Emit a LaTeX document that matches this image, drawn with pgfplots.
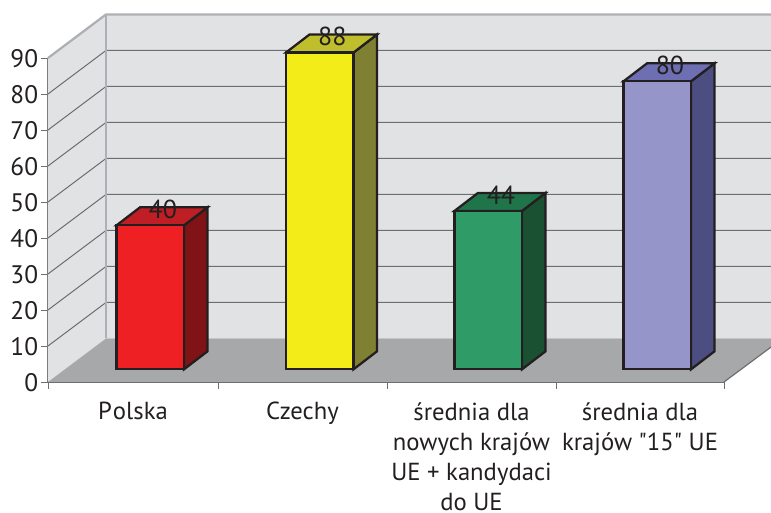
\documentclass[border=0pt]{standalone}
\usepackage{pgfplots}
\pgfplotsset{compat=1.18}
\usepackage{fontspec}
\setmainfont{PT Sans}
\newfontfamily\plainq{PT Sans}
\definecolor{wall}{HTML}{E1E2E4}
\definecolor{floorc}{HTML}{A7A8AA}
\definecolor{frame}{HTML}{AFB0B3}
\definecolor{gridc}{HTML}{6D6E70}
\definecolor{ink}{HTML}{231F20}
\definecolor{rF}{HTML}{EF2024}\definecolor{rS}{HTML}{7F1315}\definecolor{rT}{HTML}{BE1E24}
\definecolor{yF}{HTML}{F3EC18}\definecolor{yS}{HTML}{7F8032}\definecolor{yT}{HTML}{BFBF2E}
\definecolor{gF}{HTML}{2F9C67}\definecolor{gS}{HTML}{1A5133}\definecolor{gT}{HTML}{1F7549}
\definecolor{pF}{HTML}{9695C9}\definecolor{pS}{HTML}{4C4D80}\definecolor{pT}{HTML}{6E6EB2}
\begin{document}
\begin{tikzpicture}
\begin{axis}[
  name=a, scale only axis, width=507pt, height=243pt,
  xmin=48, xmax=724, ymin=0, ymax=90, clip=false,
  axis x line=bottom, axis y line=left,
  axis line style={-, draw=gridc, line width=0.9pt},
  ytick={0,10,...,90},
  xtick={133,302.5,471.5,640},
  minor xtick={48,218,387,556,724},
  xticklabels={{P\kern0.8pt olska},{Czechy},{średnia dla\\nowych krajów\\UE + kandydaci\\do UE},{średnia dla\\krajów {\plainq "}15{\plainq "} UE}},
  tick align=outside,
  major tick length=5.25pt, minor tick length=5.25pt,
  major x tick style={draw=none},
  minor x tick style={draw=gridc, line width=0.7pt},
  y tick style={draw=gridc, line width=0.7pt},
  /pgf/number format/assume math mode=true,
  yticklabel style={font=\fontsize{19}{22}\selectfont, text=ink, inner sep=0pt, xshift=-2pt, yshift=-0.5pt},
  xticklabel style={font=\fontsize{18.5}{22.5}\selectfont, text=ink, align=center, anchor=north, yshift=-9.75pt, inner sep=0pt},
  every node near coord/.append style={font=\fontsize{19.5}{22}\selectfont, text=ink, anchor=center, inner sep=0pt, xshift=9.5pt, yshift=11.75pt},
]
% walls and floor
\addplot[fill=wall, draw=none] coordinates {(48,0)(106,12.1)(106,102.1)(48,90)} -- cycle;
\addplot[fill=wall, draw=none] coordinates {(106,12.1)(771,12.1)(771,102.1)(106,102.1)} -- cycle;
\addplot[fill=floorc, draw=none] coordinates {(48,0)(106,12.1)(771,12.1)(771,9.7)(724,0)} -- cycle;
% grid lines
\addplot[gridc, line width=0.75pt] coordinates {(48,10)(106,22.1)(771,22.1)};
\addplot[gridc, line width=0.75pt] coordinates {(48,20)(106,32.1)(771,32.1)};
\addplot[gridc, line width=0.75pt] coordinates {(48,30)(106,42.1)(771,42.1)};
\addplot[gridc, line width=0.75pt] coordinates {(48,40)(106,52.1)(771,52.1)};
\addplot[gridc, line width=0.75pt] coordinates {(48,50)(106,62.1)(771,62.1)};
\addplot[gridc, line width=0.75pt] coordinates {(48,60)(106,72.1)(771,72.1)};
\addplot[gridc, line width=0.75pt] coordinates {(48,70)(106,82.1)(771,82.1)};
\addplot[gridc, line width=0.75pt] coordinates {(48,80)(106,92.1)(771,92.1)};
\addplot[frame, line width=1.7pt] coordinates {(48,90)(106,102.1)(771,102.1)};
\addplot[frame, line width=1.7pt] coordinates {(106,12.1)(106,102.1)};
\addplot[gridc, line width=0.9pt] coordinates {(724,0)(771,9.7)};
% bars: side, top, front
\addplot[fill=rS, draw=ink, line width=1.7pt, yshift=9.5pt] coordinates {(184,0)(207.5,5)(207.5,45)(184,40)} -- cycle;
\addplot[fill=rT, draw=ink, line width=1.7pt, yshift=9.5pt] coordinates {(116.5,40)(140,45)(207.5,45)(184,40)} -- cycle;
\addplot[ybar, bar width=50.6pt, bar shift=0pt, fill=rF, draw=ink, line width=1.7pt, yshift=9.5pt, nodes near coords] coordinates {(150.25,40)};
\addplot[fill=yS, draw=ink, line width=1.7pt, yshift=9.5pt] coordinates {(353.5,0)(377,5)(377,93)(353.5,88)} -- cycle;
\addplot[fill=yT, draw=ink, line width=1.7pt, yshift=9.5pt] coordinates {(286,88)(309.5,93)(377,93)(353.5,88)} -- cycle;
\addplot[ybar, bar width=50.6pt, bar shift=0pt, fill=yF, draw=ink, line width=1.7pt, yshift=9.5pt, nodes near coords] coordinates {(319.75,88)};
\addplot[fill=gS, draw=ink, line width=1.7pt, yshift=9.5pt] coordinates {(522,0)(545.5,5)(545.5,49)(522,44)} -- cycle;
\addplot[fill=gT, draw=ink, line width=1.7pt, yshift=9.5pt] coordinates {(454.5,44)(478,49)(545.5,49)(522,44)} -- cycle;
\addplot[ybar, bar width=50.6pt, bar shift=0pt, fill=gF, draw=ink, line width=1.7pt, yshift=9.5pt, nodes near coords] coordinates {(488.25,44)};
\addplot[fill=pS, draw=ink, line width=1.7pt, yshift=9.5pt] coordinates {(691,0)(714.5,5)(714.5,85)(691,80)} -- cycle;
\addplot[fill=pT, draw=ink, line width=1.7pt, yshift=9.5pt] coordinates {(623.5,80)(647,85)(714.5,85)(691,80)} -- cycle;
\addplot[ybar, bar width=50.6pt, bar shift=0pt, fill=pF, draw=ink, line width=1.7pt, yshift=9.5pt, nodes near coords] coordinates {(657.25,80)};
\end{axis}
\pgfresetboundingbox
\path[use as bounding box] (-36pt,-98.25pt) rectangle (542.25pt,286.5pt);
\end{tikzpicture}
\end{document}
